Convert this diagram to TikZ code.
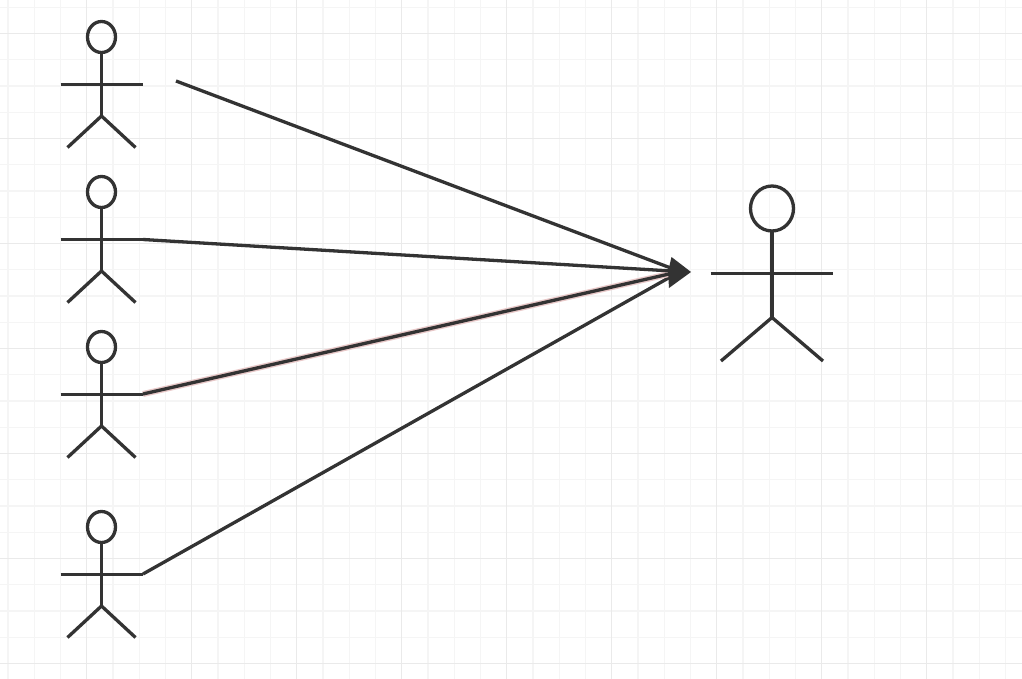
\documentclass[tikz,border=0pt]{standalone}
\definecolor{ink}{HTML}{333333}
\definecolor{gridminor}{HTML}{F5F5F5}
\definecolor{gridmajor}{HTML}{EAEAEA}
\definecolor{glow}{HTML}{E8C8C8}
\tikzset{
  stick/.style={draw=ink,line width=3.3bp},
  link/.style={draw=ink,line width=3.3bp},
  gminor/.style={draw=gridminor,line width=1.4bp},
  gmajor/.style={draw=gridmajor,line width=1.5bp},
  pics/actor/.style={code={
    \draw[stick] (0,-47.5) ellipse (14 and 15.5);
    \draw[stick] (0,-32) -- (0,31.5);
    \draw[stick] (-41,0) -- (41,0);
    \draw[stick] (-34,63) -- (0,31.5) -- (34,63);
  }}
}
\begin{document}
\begin{tikzpicture}[x=1bp,y=-1bp]
\useasboundingbox (0,0) rectangle (1022,679);
\fill[white] (0,0) rectangle (1022,679);
% grid
\foreach \i in {0,...,38}{
  \pgfmathsetmacro{\gx}{8+26.25*\i}
  \draw[gminor] (\gx,0) -- (\gx,679);
}
\foreach \i in {0,...,25}{
  \pgfmathsetmacro{\gy}{7.25+26.25*\i}
  \draw[gminor] (0,\gy) -- (1022,\gy);
}
\foreach \i in {0,...,8}{
  \pgfmathsetmacro{\gx}{86.5+105*\i}
  \draw[gmajor] (\gx,0) -- (\gx,679);
}
\foreach \i in {0,...,6}{
  \pgfmathsetmacro{\gy}{33.5+105*\i}
  \draw[gmajor] (0,\gy) -- (1022,\gy);
}
% actors
\pic at (101.5,84.5) {actor};
\pic at (101.5,239.5) {actor};
\pic at (101.5,394.5) {actor};
\pic at (101.5,574.5) {actor};
\draw[stick] (772,208.5) circle[x radius=21.5,y radius=22.5];
\draw[stick] (772,231) -- (772,317.5);
\draw[stick] (710.5,273.5) -- (833,273.5);
\draw[stick] (721,361) -- (772,317.5) -- (823,361);
% anchors
\coordinate (s1) at (176,81);
\coordinate (s2) at (143,239.5);
\coordinate (s3) at (143,394);
\coordinate (s4) at (143,574);
\coordinate (t) at (680,271.5);
\coordinate (tt) at (691,272);
% connectors
\draw[link] (s1) -- (t);
\draw[link] (s4) -- (t);
\draw[glow,line width=6bp] (s3) -- (t);
\draw[link] (s3) -- (t);
\draw[link] (s2) -- (t);
\fill[ink] (tt) -- (671.5,257) -- (668,272) -- (669,288) -- cycle;
\end{tikzpicture}
\end{document}
